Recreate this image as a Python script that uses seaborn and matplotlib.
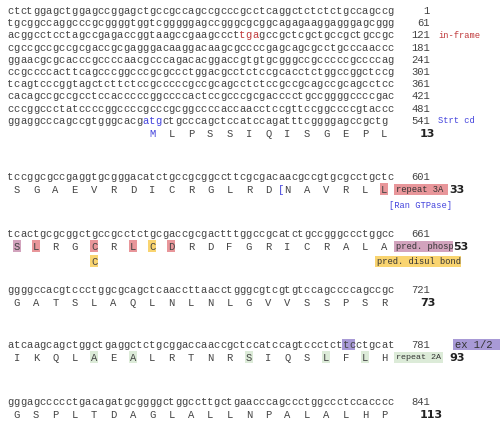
import matplotlib
matplotlib.use('Agg')
import matplotlib.pyplot as plt
import seaborn as sns
from matplotlib.patches import Rectangle

# 5'UTR 序列 (每行60个碱基)
utr_lines = [
    "ctctggagctggagccggagctgccgccagccgcccgcctcaggctctctctgccagccg",
    "tgcggccaggcccgcggggtggtcgggggagccgggcgcggcagagaaggagggagcgggt",
    "acggcctcctagccgagaccggtaagccgaagcccttgagccgctcgctgccgctgccgc",
    "cgccgccgccgcgaccgcgagggacaaggacaagcgccccgagcagcgcctgcccaacccccc",
    "ggaacgcgcacccgccccaacgcccagacacggaccgtgtgcgggccgcccccgccccagcg",
    "ccgccccacttcagcccggcccgcgccctggacgcctctccgcacctctggccggctccggc",
    "tcagtcccggtagctcttctccgcccccgccgcagcctctccgccgcagccgcagcctccgc",
    "cacagccgccgcctccacccccggccccactccgcccgcgacccctgccggggccccgac",
    "cccggccctatccccggccccgcccgcggccccaccaacctccgttccggccccgtaccc",
    "ggaggcccagccgtgggcacgatgctgcccagctccatccagatttcggggagccgctg",
]
utr_nums = [1, 61, 121, 181, 241, 301, 361, 421, 481, 541]
first_aa = "MLPSSIQISGEPL"

# 编码区
cds_lines = [
    "tccggcgccgaggtgcgggacatctgccgcggccttcgcgacaacgccgtgcgcctgctc",
    "tcactgcgcggctgccgcctctgcgaccgcgactttggccgcatctgccgggccctggcc",
    "ggggccacgtccctggcgcagctcaaccttaacctgggcgtcgtgtccagccccagccgc",
    "atcaagcagctggctgaggctctgcggaccaaccgctccatccagtccctcttcctgcat",
    "gggagccccctgacagatgcggggctggccttgctgaacccagccctggccctccacccct",
]
cds_nums = [601, 661, 721, 781, 841]
cds_aa = [
    "SGAEVRDICRGLRDNAVRLL",
    "SLRGCRLCDRDFGRICRALA",
    "GATSLAQLNLNLGVVSSPSR",
    "IKQLAEALRTNRSIQSLFLH",
    "GSPLTDAGLALLNPALALHP",
]
aa_counts = [13, 33, 53, 73, 93, 113]

RED = '#e8969a'
MAUVE = '#d2a3bd'
YELLOW = '#f9d470'
GREEN = '#dcebd8'
PURPLE = '#a89ad6'
# 高亮 (行, 氨基酸序号, 颜色)
aa_marks = [(0, 19, RED), (1, 0, MAUVE), (1, 1, RED), (1, 4, RED), (1, 6, RED),
            (1, 7, YELLOW), (1, 8, RED),
            (3, 4, GREEN), (3, 6, GREEN), (3, 12, GREEN), (3, 16, GREEN), (3, 18, GREEN)]

sns.set_style('white')
fig = plt.figure(figsize=(5, 4.31), dpi=100)
ax = fig.add_axes([0, 0, 1, 1])
ax.set_xlim(0, 500)
ax.set_ylim(431, 0)
ax.axis('off')

X0, CW = 7, 6.45
mono = dict(family='Liberation Mono', fontsize=7.6, color='#444444', va='center', ha='center')
bold = dict(family='DejaVu Sans', fontsize=8, weight='bold', color='#222222', va='center')


def cx(i):
    return X0 + i * CW + CW / 2


def seq_row(s, y, colors=None):
    for i, ch in enumerate(s[:60]):
        c = colors.get(i, '#444444') if colors else '#444444'
        ax.text(cx(i), y, ch, **{**mono, 'color': c})


def box(x0, x1, y, color, h=11):
    ax.add_patch(Rectangle((x0, y - h / 2), x1 - x0, h, color=color, lw=0, zorder=0))


def note(x, y, s, color, size=6.3):
    ax.text(x, y, s, family='Liberation Mono', fontsize=size, color=color, va='center')


# 上部 5'UTR
for k, (s, n) in enumerate(zip(utr_lines, utr_nums)):
    y = 11 + k * 12.2
    cols = {}
    if k == 2:
        cols = {36: '#c0393b', 37: '#c0393b', 38: '#c0393b'}
    if k == 9:
        cols = {21: '#4444dd', 22: '#4444dd', 23: '#4444dd'}
    seq_row(s, y, cols)
    ax.text(430, y, str(n), **{**mono, 'ha': 'right'})
note(438, 11 + 2 * 12.2, 'in-frame', '#c0393b')
note(438, 11 + 9 * 12.2, 'Strt cd', '#4444dd')
y = 134
for j, a in enumerate(first_aa):
    ax.text(cx(22 + 3 * j), y, a, **{**mono, 'color': '#4444dd' if j == 0 else '#444444'})
ax.text(420, y, str(aa_counts[0]), **bold)

# 编码区各块
ys = [177, 234, 290, 345, 402]
for r, (s, n, aa, y) in enumerate(zip(cds_lines, cds_nums, cds_aa, ys)):
    if r == 3:
        box(cx(52) - CW / 2, cx(53) + CW / 2, y, PURPLE)
    seq_row(s, y)
    ax.text(430, y, str(n), **{**mono, 'ha': 'right'})
    ya = y + 13
    for j, a in enumerate(aa):
        for (rr, jj, col) in aa_marks:
            if rr == r and jj == j:
                box(cx(1 + 3 * j) - 4, cx(1 + 3 * j) + 4, ya, col, 12)
        ax.text(cx(1 + 3 * j), ya, a, **mono)
    if r == 0:
        ax.text(cx(42), ya, '[', **{**mono, 'color': '#4444dd'})
        box(394, 448, ya, RED)
        note(396, ya, 'repeat 3A', '#333333')
        ax.text(449, ya, '33', **bold)
        note(389, ya + 16, '[Ran GTPase]', '#4444dd')
    elif r == 1:
        box(394, 453, ya, MAUVE)
        note(396, ya, 'pred. phosp', '#333333')
        ax.text(453, ya, '53', **bold)
        box(cx(13) - 4, cx(13) + 4, ya + 15, YELLOW, 12)
        ax.text(cx(13), ya + 15, 'C', **mono)
        box(375, 461, ya + 15, YELLOW)
        note(377, ya + 15, 'pred. disul bond', '#333333')
    elif r == 3:
        box(453, 500, y, PURPLE)
        note(455, y, 'ex 1/2', '#333333', 7.6)
        box(394, 443, ya, GREEN)
        note(396, ya, 'repeat 2A', '#333333', 6)
        ax.text(449, ya, '93', **bold)
    else:
        ax.text(420, ya, str(aa_counts[r + 1]), **bold)

fig.savefig('out.png', dpi=100)
